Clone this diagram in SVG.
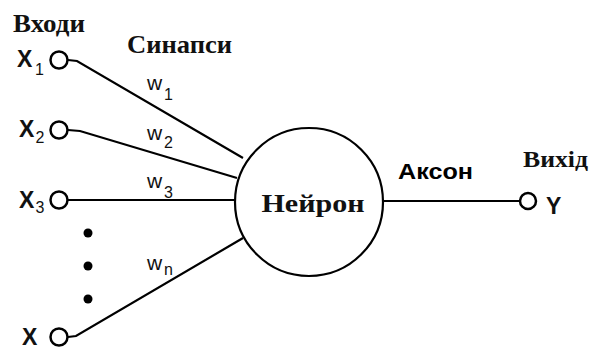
<svg xmlns="http://www.w3.org/2000/svg" width="590" height="350" viewBox="0 0 590 350">
<style>
.ln{fill:none;stroke:#000;stroke-width:2.2}
.port{fill:#fff;stroke:#000;stroke-width:2.5}
.serif{font-family:"Liberation Serif","Times New Roman",serif;font-weight:bold;fill:#111}
.sans{font-family:"Liberation Sans",Arial,sans-serif;fill:#000}
.x{font-family:"Liberation Sans",Arial,sans-serif;font-size:23px;font-weight:bold;fill:#111}
.xs{font-size:16px;font-weight:normal}
.w{font-family:"Liberation Sans",Arial,sans-serif;font-size:21px;fill:#111}
.ws{font-size:16px}
</style>
<rect width="590" height="350" fill="#fff"/>
<g id="connectors">
<polyline class="ln" points="68,60 77,61 243,158"/>
<polyline class="ln" points="68,130 80,131 237,178"/>
<line class="ln" x1="68" y1="200" x2="235" y2="200"/>
<polyline class="ln" points="68,337 76,336 243,238"/>
<line class="ln" x1="383" y1="201" x2="520" y2="201"/>
</g>
<g id="labels">
<text class="serif" x="13" y="32" font-size="26" textLength="72" lengthAdjust="spacingAndGlyphs">Входи</text>
<text class="serif" x="127" y="53" font-size="26" textLength="105" lengthAdjust="spacingAndGlyphs">Синапси</text>
<text class="serif" x="523" y="167" font-size="23" textLength="65" lengthAdjust="spacingAndGlyphs">Вихід</text>
<text class="sans" x="398" y="179" font-size="22" font-weight="bold" textLength="75" lengthAdjust="spacingAndGlyphs">Аксон</text>
<text class="w" x="147" y="90">w<tspan class="ws" x="164" y="100">1</tspan></text>
<text class="w" x="147" y="140">w<tspan class="ws" x="164" y="148">2</tspan></text>
<text class="w" x="147" y="188">w<tspan class="ws" x="164" y="198">3</tspan></text>
<text class="w" x="147" y="270">w<tspan class="ws" x="164" y="275">n</tspan></text>
</g>
<g id="x1"><text class="x" x="17" y="67">X<tspan class="xs" x="35" y="75">1</tspan></text><circle class="port" cx="59" cy="60" r="8.5"/></g>
<g id="x2"><text class="x" x="19" y="137">X<tspan class="xs" x="35.5" y="143">2</tspan></text><circle class="port" cx="59" cy="130" r="8.5"/></g>
<g id="x3"><text class="x" x="19" y="208">X<tspan class="xs" x="35.5" y="213">3</tspan></text><circle class="port" cx="59" cy="200" r="8.5"/></g>
<g id="xn"><text class="x" x="22" y="345">X</text><circle class="port" cx="59" cy="337" r="8.5"/></g>
<g id="dots"><circle cx="88" cy="233" r="4.5"/><circle cx="88" cy="266" r="4.5"/><circle cx="88" cy="299" r="4.5"/></g>
<g id="neuron"><circle class="ln" cx="309" cy="202" r="74" stroke-width="2.5"/><text class="serif" x="313" y="212" font-size="26" text-anchor="middle" textLength="103" lengthAdjust="spacingAndGlyphs">Нейрон</text></g>
<g id="y"><circle class="port" cx="528" cy="201" r="8"/><text class="x" x="546" y="214" font-size="21">Y</text></g>
</svg>
